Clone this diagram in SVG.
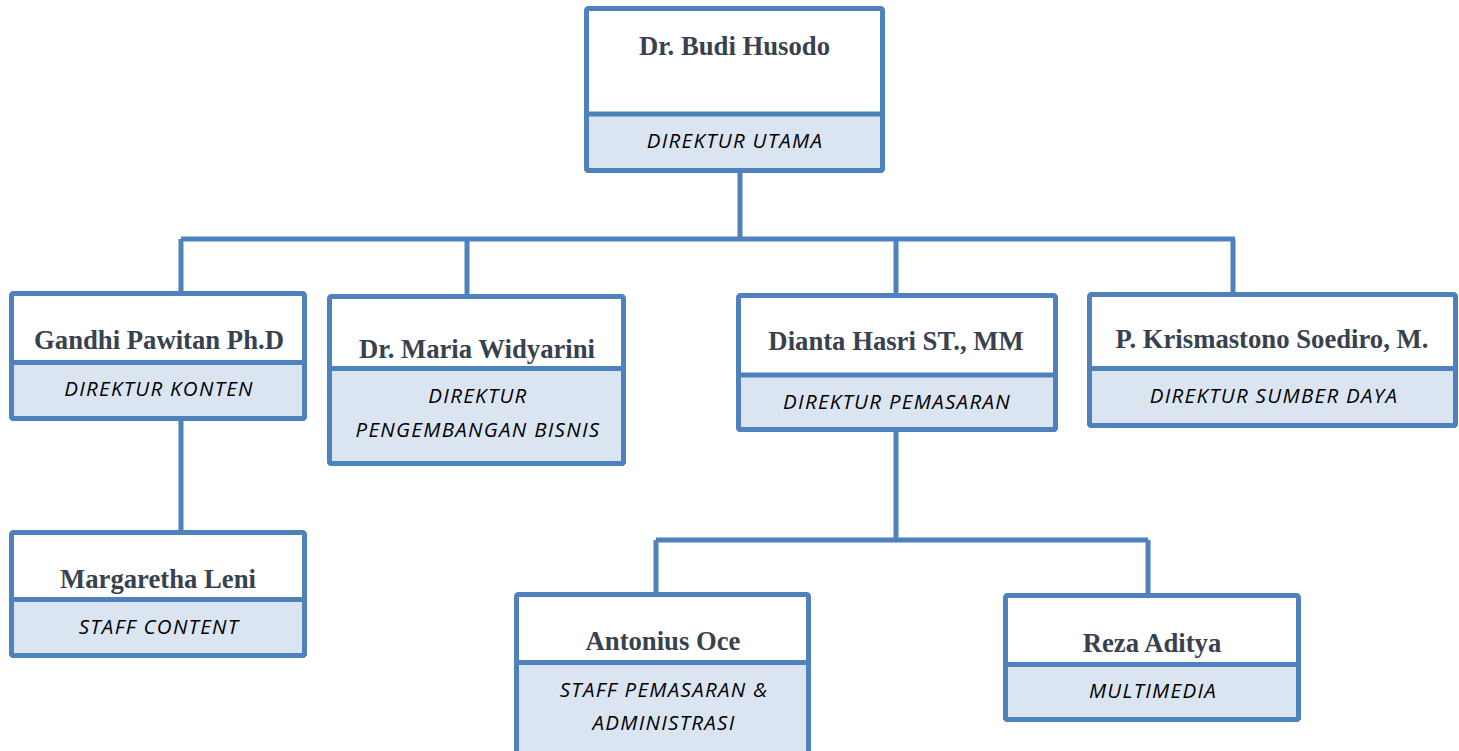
<svg xmlns="http://www.w3.org/2000/svg" width="1459" height="751" viewBox="0 0 1459 751">
<style>
.box{fill:#ffffff;stroke:#4f81bd;stroke-width:5;stroke-linejoin:round}
.title{fill:#dbe5f1;stroke:#4f81bd;stroke-width:5;stroke-linejoin:round}
.name{font-family:"Liberation Serif",serif;font-weight:bold;font-size:26.7px;fill:#38424f;text-anchor:middle}
.role{font-family:"Open Sans","DejaVu Sans",sans-serif;font-style:italic;font-size:20.5px;letter-spacing:1.3px;fill:#000000;text-anchor:middle}
.conn{fill:none;stroke:#4f81bd;stroke-width:5}
</style>
<rect width="1459" height="751" fill="#ffffff"/>
<g id="connectors">
<path class="conn" d="M740 171 V239 M181 239 H1235 M181 239 V292 M467 239 V295 M896 239 V294 M1233 239 V293"/>
<path class="conn" d="M181 419 V531"/>
<path class="conn" d="M896 430 V540 M656 540 H1148 M656 540 V593 M1148 540 V594"/>
</g>
<g id="n-budi">
<rect class="box" x="586.5" y="8.5" width="296" height="162" rx="2"/>
<rect class="title" x="586.5" y="114" width="296" height="56.5" rx="2"/>
<text class="name" x="734.5" y="55">Dr. Budi Husodo</text>
<text class="role" x="735" y="148">DIREKTUR UTAMA</text>
</g>
<g id="n-gandhi">
<rect class="box" x="11.5" y="293.5" width="293" height="125" rx="2"/>
<rect class="title" x="11.5" y="362.5" width="293" height="56" rx="2"/>
<text class="name" x="159" y="349">Gandhi Pawitan Ph.D</text>
<text class="role" x="159" y="396">DIREKTUR KONTEN</text>
</g>
<g id="n-maria">
<rect class="box" x="329.5" y="296.5" width="294" height="167" rx="2"/>
<rect class="title" x="329.5" y="368.5" width="294" height="95" rx="2"/>
<text class="name" x="477" y="358">Dr. Maria Widyarini</text>
<text class="role" x="478" y="403">DIREKTUR</text>
<text class="role" x="478" y="437">PENGEMBANGAN BISNIS</text>
</g>
<g id="n-dianta">
<rect class="box" x="738.5" y="295.5" width="317" height="134" rx="2"/>
<rect class="title" x="738.5" y="375" width="317" height="54.5" rx="2"/>
<text class="name" x="896" y="350">Dianta Hasri ST., MM</text>
<text class="role" x="897" y="409">DIREKTUR PEMASARAN</text>
</g>
<g id="n-kris">
<rect class="box" x="1089.5" y="294.5" width="366" height="131" rx="2"/>
<rect class="title" x="1089.5" y="368.5" width="366" height="57" rx="2"/>
<text class="name" x="1272" y="348">P. Krismastono Soediro, M.</text>
<text class="role" x="1274" y="403">DIREKTUR SUMBER DAYA</text>
</g>
<g id="n-margaretha">
<rect class="box" x="11.5" y="532.5" width="293" height="123" rx="2"/>
<rect class="title" x="11.5" y="599.5" width="293" height="56" rx="2"/>
<text class="name" x="158" y="588">Margaretha Leni</text>
<text class="role" x="159" y="634">STAFF CONTENT</text>
</g>
<g id="n-antonius">
<rect class="box" x="516.5" y="594.5" width="292" height="170" rx="2"/>
<rect class="title" x="516.5" y="662.5" width="292" height="102" rx="2"/>
<text class="name" x="663" y="650">Antonius Oce</text>
<text class="role" x="664" y="697">STAFF PEMASARAN &amp;</text>
<text class="role" x="664" y="730">ADMINISTRASI</text>
</g>
<g id="n-reza">
<rect class="box" x="1005.5" y="595.5" width="293" height="124" rx="2"/>
<rect class="title" x="1005.5" y="664.5" width="293" height="55" rx="2"/>
<text class="name" x="1152" y="652">Reza Aditya</text>
<text class="role" x="1153" y="698">MULTIMEDIA</text>
</g>
</svg>
